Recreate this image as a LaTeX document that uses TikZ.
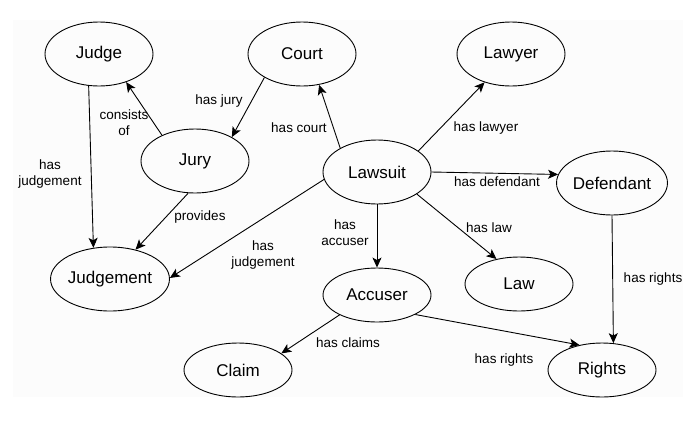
\documentclass[tikz,border=0pt]{standalone}
\usepackage{fontspec}
\setmainfont{Liberation Sans}
\usetikzlibrary{shapes.geometric,arrows.meta}
\begin{document}
\begin{tikzpicture}[x=1pt,y=-1pt,
  ent/.style={draw,ellipse,line width=0.9pt,minimum width=108pt,minimum height=64pt,inner sep=0pt,font=\fontsize{17}{17}\selectfont},
  entlow/.style={ent,minimum height=54pt},
  rel/.style={draw,line width=0.9pt,-{Stealth[length=10pt,width=9pt,inset=2.5pt]}},
  lab/.style={font=\fontsize{13.5}{16}\selectfont,align=center,inner sep=0pt}]
\useasboundingbox (0,0) rectangle (685,421);
\fill[black!1.2] (13,20) rectangle (683,397);
% nodes
\node[ent] (judge) at (99,54) {Judge};
\node[ent] (court) at (302,54) {Court};
\node[ent] (lawyer) at (511,54) {Lawyer};
\node[ent] (jury) at (195,161) {Jury};
\node[ent] (lawsuit) at (377,172) {Lawsuit};
\node[ent] (defendant) at (612,183) {Defendant};
\node[ent] (judgement) at (110,279) {Judgement};
\node[entlow] (accuser) at (377,295) {Accuser};
\node[entlow] (law) at (519,284) {Law};
\node[entlow] (claim) at (238,370) {Claim};
\node[entlow] (rights) at (602,370) {Rights};
% edges
\draw[rel] (jury.142) -- (judge.-46);
\draw[rel] (court.-148) -- (jury.33);
\draw[rel] (lawsuit.147) -- (court.-61);
\draw[rel] (lawsuit.27) -- (lawyer.-133);
\draw[rel] (lawsuit.0) -- (defendant.171);
\draw[rel] (lawsuit.-29) -- (law.132);
\draw[rel] (lawsuit.south) -- (accuser.north);
\draw[rel] (lawsuit.188) -- (judgement.1);
\draw[rel] (jury.-102) -- (judgement.49);
\draw[rel] (judge.-108) -- (judgement.118);
\draw[rel] (defendant.south) -- (rights.67);
\draw[rel] (accuser.-27) -- (rights.132);
\draw[rel] (accuser.-152) -- (claim.21);
% labels
\node[lab] (l1) at (124,123) {consists\\of};
\node[lab] (l2) at (219,101) {has jury};
\node[lab] (l3) at (299,128) {has court};
\node[lab] (l4) at (486,128) {has lawyer};
\node[lab] (l5) at (497,182) {has defendant};
\node[lab] (l6) at (489,228) {has law};
\node[lab] (l7) at (345,233) {has\\accuser};
\node[lab] (l8) at (263,255) {has\\judgement};
\node[lab] (l9) at (200,217) {provides};
\node[lab] (l10) at (50,174) {has\\judgement};
\node[lab] (l11) at (653,279) {has rights};
\node[lab] (l12) at (504,360) {has rights};
\node[lab] (l13) at (348,343) {has claims};
\end{tikzpicture}
\end{document}
